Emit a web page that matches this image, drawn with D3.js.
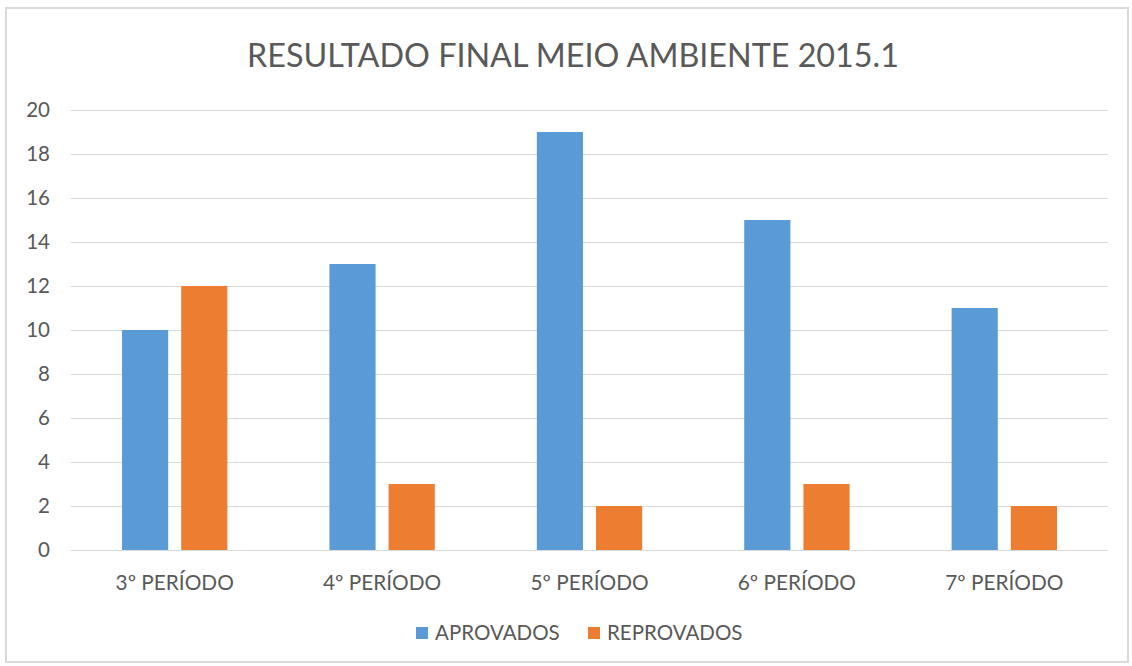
<!DOCTYPE html>
<html><head><meta charset="utf-8">
<script src="https://cdn.jsdelivr.net/npm/d3@7"></script>
<style>body{margin:0;background:#fff}svg{display:block}text{font-family:Lato,"Open Sans",sans-serif;fill:#595959}</style>
</head><body><svg id="c" width="1132" height="666"></svg>
<script>
const title = "RESULTADO FINAL MEIO AMBIENTE 2015.1";
const categories = ["3º PERÍODO","4º PERÍODO","5º PERÍODO","6º PERÍODO","7º PERÍODO"];
const seriesNames = ["APROVADOS","REPROVADOS"];
const aprovados = [10,13,19,15,11];
const reprovados = [12,3,2,3,2];
const yTicks = [0,2,4,6,8,10,12,14,16,18,20];
const colors = ["#5b9bd5","#ed7d31"];

const svg = d3.select("#c");
svg.append("rect").attr("x",6).attr("y",8).attr("width",1122).attr("height",654)
  .attr("fill","#fff").attr("stroke","#d9d9d9").attr("stroke-width",2);

const pLeft=71, pRight=1108, pTop=110, pBottom=550;
const y = d3.scaleLinear().domain([0,20]).range([pBottom,pTop]);
const x0 = d3.scaleBand().domain(categories).range([pLeft,pRight]).padding(0);
const bw = x0.bandwidth();
const x1 = d3.scaleBand().domain(seriesNames).range([bw*0.246,bw*0.754]).paddingInner(0.22);

// grid
svg.append("g").selectAll("line").data(yTicks).join("line")
  .attr("x1",pLeft).attr("x2",pRight).attr("y1",d=>Math.round(y(d))+0.5).attr("y2",d=>Math.round(y(d))+0.5)
  .attr("stroke","#d9d9d9").attr("stroke-width",1);

// y labels
const yAxis = d3.axisLeft(y).tickValues(yTicks).tickSize(0).tickPadding(0);
const ga = svg.append("g").attr("transform",`translate(${50},0)`).call(yAxis);
ga.select(".domain").remove();
ga.selectAll("text").attr("font-size",20.5).style("font-family","Lato,sans-serif").attr("fill","#595959");

// bars
const data = categories.map((c,i)=>({c, vals:[aprovados[i],reprovados[i]]}));
const g = svg.append("g").selectAll("g").data(data).join("g").attr("transform",d=>`translate(${x0(d.c)},0)`);
g.selectAll("rect").data(d=>d.vals.map((v,j)=>({s:seriesNames[j],v,j}))).join("rect")
  .attr("x",d=>x1(d.s)).attr("width",x1.bandwidth())
  .attr("y",d=>y(d.v)).attr("height",d=>y(0)-y(d.v)).attr("fill",d=>colors[d.j]);

// x labels
const xAxis = d3.axisBottom(x0).tickSize(0).tickPadding(0);
const gx = svg.append("g").attr("transform",`translate(0,${pBottom+25})`).call(xAxis);
gx.select(".domain").remove();
gx.selectAll("text").attr("font-size",20.8).style("font-family","Lato,sans-serif").attr("fill","#595959").attr("dy","0.71em");

// title
svg.append("text").attr("x",573).attr("y",67).attr("text-anchor","middle").attr("font-size",32.3).text(title);

// legend
const legX=[416,588];
const lg = svg.append("g").selectAll("g").data(seriesNames).join("g").attr("transform",(d,i)=>`translate(${legX[i]},627)`);
lg.append("rect").attr("width",12).attr("height",12).attr("fill",(d,i)=>colors[i]);
lg.append("text").attr("x",19).attr("y",13).attr("font-size",20.5).text(d=>d);
</script></body></html>
